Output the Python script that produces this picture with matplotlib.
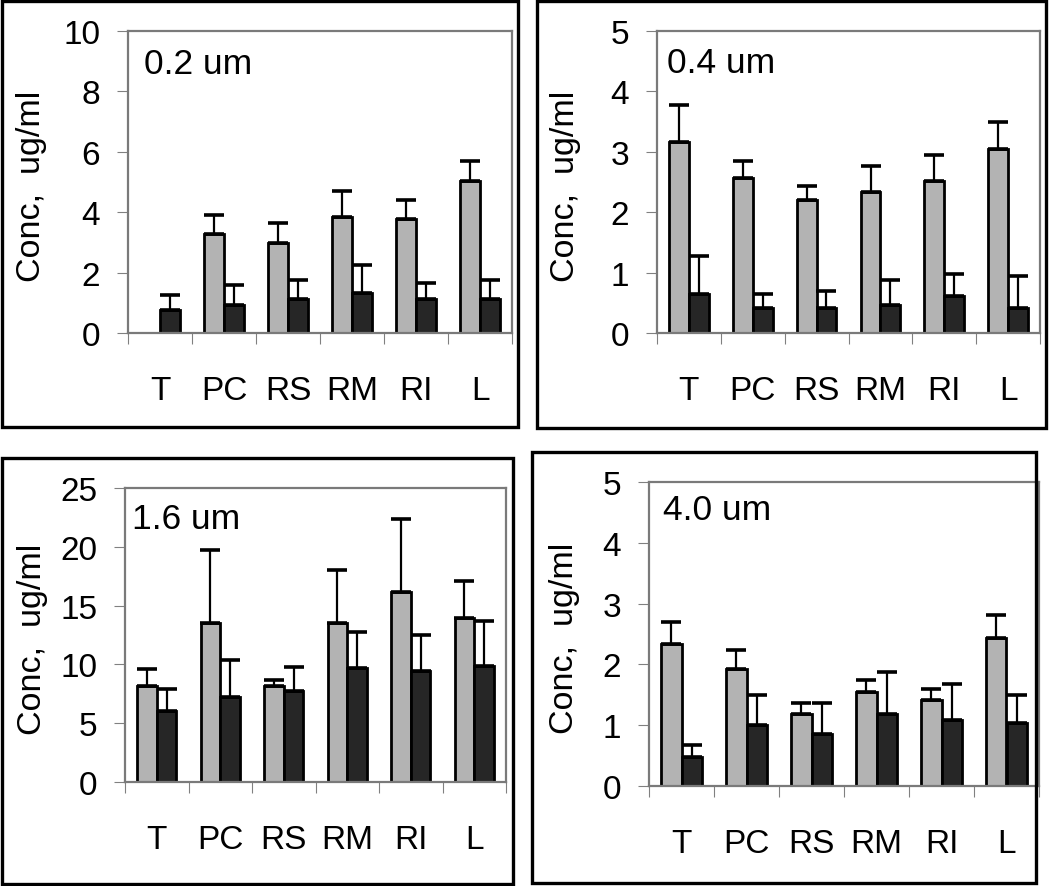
import matplotlib.pyplot as plt
from matplotlib.patches import Rectangle
import numpy as np

plt.rcParams['font.family'] = ['Liberation Sans', 'DejaVu Sans']

sites = ['T', 'PC', 'RS', 'RM', 'RI', 'L']

# 0.2 um
gray_02 = [np.nan, 3.29, 2.99, 3.84, 3.76, 5.04]
gray_02_err = [np.nan, 0.63, 0.66, 0.85, 0.64, 0.66]
dark_02 = [0.75, 0.94, 1.14, 1.31, 1.14, 1.14]
dark_02_err = [0.50, 0.66, 0.63, 0.93, 0.52, 0.63]

# 0.4 um
gray_04 = [3.17, 2.57, 2.20, 2.33, 2.52, 3.04]
gray_04_err = [0.61, 0.28, 0.23, 0.43, 0.43, 0.46]
dark_04 = [0.65, 0.41, 0.41, 0.46, 0.61, 0.41]
dark_04_err = [0.62, 0.24, 0.29, 0.42, 0.37, 0.53]

# 1.6 um
gray_16 = [8.18, 13.52, 8.18, 13.52, 16.14, 13.95]
gray_16_err = [1.42, 6.22, 0.51, 4.52, 6.22, 3.10]
dark_16 = [6.02, 7.24, 7.70, 9.66, 9.40, 9.86]
dark_16_err = [1.93, 3.13, 2.10, 3.12, 3.10, 3.83]

# 4.0 um
gray_40 = [2.34, 1.92, 1.18, 1.55, 1.41, 2.43]
gray_40_err = [0.36, 0.32, 0.19, 0.19, 0.19, 0.38]
dark_40 = [0.48, 1.00, 0.86, 1.18, 1.09, 1.04]
dark_40_err = [0.19, 0.49, 0.51, 0.70, 0.59, 0.45]

W, H = 1050, 887
fig = plt.figure(figsize=(W / 100, H / 100), dpi=100)


def px_axes(l, t, r, b):
    return fig.add_axes([l / W, 1 - b / H, (r - l) / W, (b - t) / H])


def px_box(l, t, r, b):
    fig.patches.append(Rectangle((l / W, 1 - b / H), (r - l) / W, (b - t) / H,
                                 transform=fig.transFigure, fill=False,
                                 ec='black', lw=2.4))


def panel(ax, gray, gray_err, dark, dark_err, ymax, ystep, label, lab_xy, ylab_x):
    x = np.arange(len(sites))
    w = 0.31
    zeros = np.zeros(len(sites))
    ax.bar(x - w / 2, gray, w, color='#b3b3b3', edgecolor='black', lw=2.0, zorder=2)
    ax.bar(x + w / 2, dark, w, color='#262626', edgecolor='black', lw=2.0, zorder=2)
    ax.errorbar(x - w / 2, gray, yerr=[zeros, gray_err], fmt='none', ecolor='black',
                elinewidth=1.6, capsize=7.5, capthick=2.6, zorder=3)
    ax.errorbar(x + w / 2, dark, yerr=[zeros, dark_err], fmt='none', ecolor='black',
                elinewidth=1.6, capsize=7.5, capthick=2.6, zorder=3)
    ax.set_xlim(-0.5, len(sites) - 0.5)
    ax.set_ylim(0, ymax)
    ax.set_yticks(np.arange(0, ymax + ystep / 2, ystep))
    ax.set_xticks(np.arange(-0.5, len(sites), 1))
    ax.set_xticklabels([])
    ax.set_xticks(x, minor=True)
    ax.set_xticklabels(sites, minor=True)
    ax.tick_params(axis='x', which='major', direction='out', length=8, width=0.8,
                   color='#808080')
    ax.tick_params(axis='x', which='minor', length=0, pad=30, labelsize=24)
    ax.tick_params(axis='y', direction='out', length=8, width=0.8, color='#808080',
                   pad=12, labelsize=24)
    for s in ax.spines.values():
        s.set_color('#7a7a7a')
        s.set_linewidth(1.6)
    ax.set_ylabel('Conc,  ug/ml', fontsize=24.5, va='center')
    ax.yaxis.set_label_coords(ylab_x, 0.49)
    ax.text(lab_xy[0], lab_xy[1], label, transform=ax.transAxes, fontsize=25.5,
            ha='left', va='center')


ax1 = px_axes(128, 32, 512, 334)
panel(ax1, gray_02, gray_02_err, dark_02, dark_02_err, 10, 2, '0.2 um', (0.042, 0.894), -0.25)
ax2 = px_axes(657, 32, 1040, 334)
panel(ax2, gray_04, gray_04_err, dark_04, dark_04_err, 5, 1, '0.4 um', (0.026, 0.897), -0.24)
ax3 = px_axes(125, 489, 506, 783)
panel(ax3, gray_16, gray_16_err, dark_16, dark_16_err, 25, 5, '1.6 um', (0.018, 0.895), -0.244)
ax4 = px_axes(649, 483, 1039, 787)
panel(ax4, gray_40, gray_40_err, dark_40, dark_40_err, 5, 1, '4.0 um', (0.036, 0.911), -0.217)

px_box(2, 2, 518, 428)
px_box(537, 2, 1046, 429)
px_box(2, 459, 513, 885)
px_box(532, 453, 1036, 884)

fig.savefig('out.png', dpi=100)
